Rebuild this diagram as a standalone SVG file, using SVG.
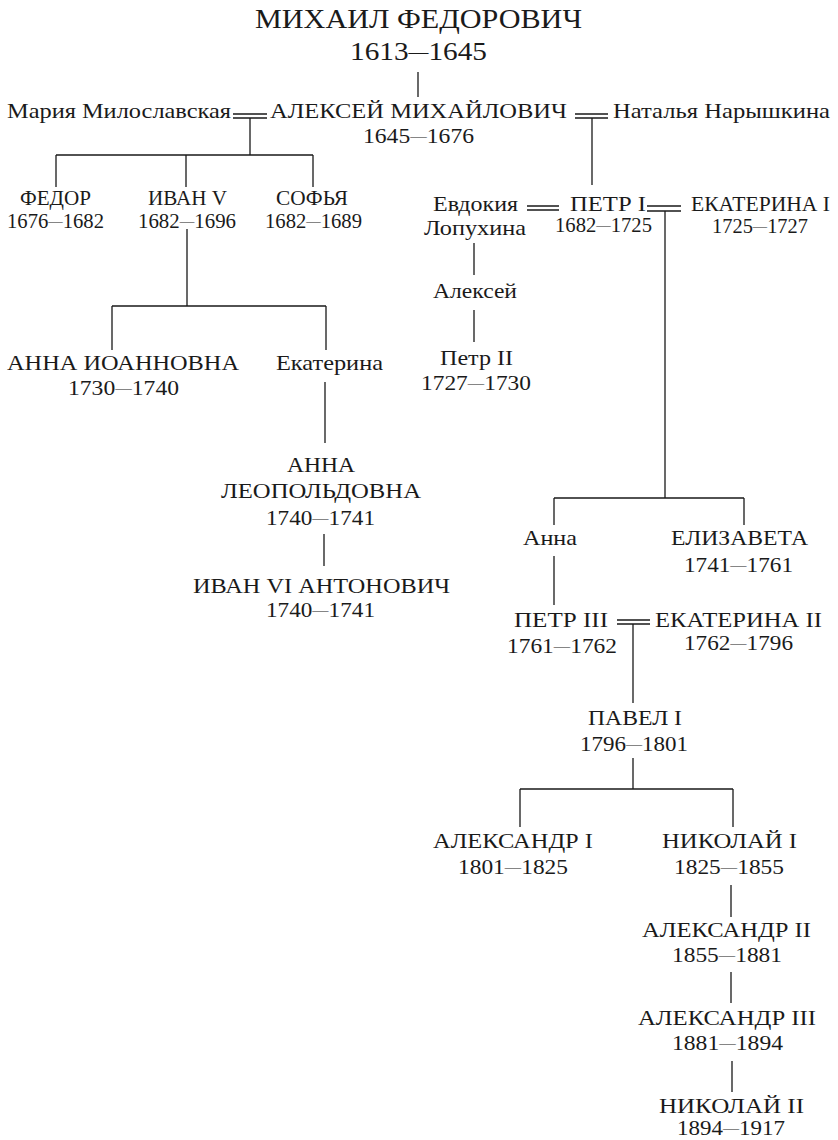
<svg xmlns="http://www.w3.org/2000/svg" width="838" height="1140" viewBox="0 0 838 1140">
<style>
text{font-family:"Liberation Serif","Times New Roman",serif;fill:#1a1a1a;text-anchor:middle;font-size:21px}
.d{font-size:20px}
.t{font-size:27px}
.td{font-size:25px}
.m{font-size:14px}
.m2{font-size:17px}
.c path{stroke:#1a1a1a;stroke-width:1.3;fill:none}
</style>
<rect width="838" height="1140" fill="#fff"/>
<g class="c" id="connectors">
<path d="M418 72V97"/>
<path d="M233 114H267M233 118H267"/>
<path d="M250 118V155M56 155H313M56 155V187M186 155V187M313 155V187"/>
<path d="M575 114H608M575 118H608"/>
<path d="M592 118V185"/>
<path d="M187 229V306M112 306H326M112 306V350M326 306V350"/>
<path d="M325 382V443"/>
<path d="M324 534V566"/>
<path d="M527 206H559M527 210H559"/>
<path d="M647 206H681M647 211H681"/>
<path d="M665 211V498M554 498H744M554 498V525M744 498V525"/>
<path d="M474 243V275M474 310V342"/>
<path d="M554 556V605"/>
<path d="M617 620H650M617 624H650"/>
<path d="M633 624V703"/>
<path d="M633 758V789M520 789H733M520 789V827M733 789V827"/>
<path d="M731 885V917M731 972V1003M732 1061V1092"/>
</g>
<g id="mikhail"><text class="t" x="418.5" y="28" textLength="327" lengthAdjust="spacingAndGlyphs">МИХАИЛ ФЕДОРОВИЧ</text><text class="td" x="418.5" y="60" textLength="137" lengthAdjust="spacingAndGlyphs">1613<tspan class="m2" dy="-3">—</tspan><tspan dy="3">1645</tspan></text></g>
<g id="maria"><text x="119" y="118" textLength="224" lengthAdjust="spacingAndGlyphs">Мария Милославская</text></g>
<g id="aleksei"><text x="418.5" y="118" textLength="297" lengthAdjust="spacingAndGlyphs">АЛЕКСЕЙ МИХАЙЛОВИЧ</text><text class="d" x="418.5" y="143" textLength="111" lengthAdjust="spacingAndGlyphs">1645<tspan class="m" dy="-2">—</tspan><tspan dy="2">1676</tspan></text></g>
<g id="natalia"><text x="721.5" y="118" textLength="217" lengthAdjust="spacingAndGlyphs">Наталья Нарышкина</text></g>
<g id="fedor"><text x="55.5" y="205" textLength="71" lengthAdjust="spacingAndGlyphs">ФЕДОР</text><text class="d" x="55.5" y="228" textLength="97" lengthAdjust="spacingAndGlyphs">1676<tspan class="m" dy="-2">—</tspan><tspan dy="2">1682</tspan></text></g>
<g id="ivan5"><text x="187.5" y="205" textLength="79" lengthAdjust="spacingAndGlyphs">ИВАН V</text><text class="d" x="187" y="228" textLength="98" lengthAdjust="spacingAndGlyphs">1682<tspan class="m" dy="-2">—</tspan><tspan dy="2">1696</tspan></text></g>
<g id="sofia"><text x="312" y="205" textLength="72" lengthAdjust="spacingAndGlyphs">СОФЬЯ</text><text class="d" x="313.5" y="228" textLength="97" lengthAdjust="spacingAndGlyphs">1682<tspan class="m" dy="-2">—</tspan><tspan dy="2">1689</tspan></text></g>
<g id="anna-ioannovna"><text x="123" y="370" textLength="232" lengthAdjust="spacingAndGlyphs">АННА ИОАННОВНА</text><text class="d" x="123.5" y="395" textLength="111" lengthAdjust="spacingAndGlyphs">1730<tspan class="m" dy="-2">—</tspan><tspan dy="2">1740</tspan></text></g>
<g id="ekaterina-iv"><text x="329.5" y="370" textLength="107" lengthAdjust="spacingAndGlyphs">Екатерина</text></g>
<g id="anna-leopoldovna"><text x="321" y="472" textLength="68" lengthAdjust="spacingAndGlyphs">АННА</text><text x="321" y="498" textLength="200" lengthAdjust="spacingAndGlyphs">ЛЕОПОЛЬДОВНА</text><text class="d" x="320.5" y="525" textLength="109" lengthAdjust="spacingAndGlyphs">1740<tspan class="m" dy="-2">—</tspan><tspan dy="2">1741</tspan></text></g>
<g id="ivan6"><text x="321.5" y="593" textLength="257" lengthAdjust="spacingAndGlyphs">ИВАН VI АНТОНОВИЧ</text><text class="d" x="320.5" y="617" textLength="109" lengthAdjust="spacingAndGlyphs">1740<tspan class="m" dy="-2">—</tspan><tspan dy="2">1741</tspan></text></g>
<g id="evdokia"><text x="475.5" y="211" textLength="85" lengthAdjust="spacingAndGlyphs">Евдокия</text><text x="475" y="235" textLength="102" lengthAdjust="spacingAndGlyphs">Лопухина</text></g>
<g id="petr1"><text x="608" y="211" textLength="76" lengthAdjust="spacingAndGlyphs">ПЕТР I</text><text class="d" x="603.5" y="232" textLength="97" lengthAdjust="spacingAndGlyphs">1682<tspan class="m" dy="-2">—</tspan><tspan dy="2">1725</tspan></text></g>
<g id="ekaterina1"><text x="760.5" y="211" textLength="139" lengthAdjust="spacingAndGlyphs">ЕКАТЕРИНА I</text><text class="d" x="760" y="233" textLength="96" lengthAdjust="spacingAndGlyphs">1725<tspan class="m" dy="-2">—</tspan><tspan dy="2">1727</tspan></text></g>
<g id="aleksei-p"><text x="475" y="298" textLength="84" lengthAdjust="spacingAndGlyphs">Алексей</text></g>
<g id="petr2"><text x="476.5" y="365" textLength="73" lengthAdjust="spacingAndGlyphs">Петр II</text><text class="d" x="476" y="390" textLength="110" lengthAdjust="spacingAndGlyphs">1727<tspan class="m" dy="-2">—</tspan><tspan dy="2">1730</tspan></text></g>
<g id="anna-p"><text x="550" y="545" textLength="54" lengthAdjust="spacingAndGlyphs">Анна</text></g>
<g id="elizaveta"><text x="739.5" y="545" textLength="137" lengthAdjust="spacingAndGlyphs">ЕЛИЗАВЕТА</text><text class="d" x="738.5" y="572" textLength="109" lengthAdjust="spacingAndGlyphs">1741<tspan class="m" dy="-2">—</tspan><tspan dy="2">1761</tspan></text></g>
<g id="petr3"><text x="561" y="627" textLength="94" lengthAdjust="spacingAndGlyphs">ПЕТР III</text><text class="d" x="562" y="653" textLength="110" lengthAdjust="spacingAndGlyphs">1761<tspan class="m" dy="-2">—</tspan><tspan dy="2">1762</tspan></text></g>
<g id="ekaterina2"><text x="738.5" y="627" textLength="167" lengthAdjust="spacingAndGlyphs">ЕКАТЕРИНА II</text><text class="d" x="738.5" y="650" textLength="109" lengthAdjust="spacingAndGlyphs">1762<tspan class="m" dy="-2">—</tspan><tspan dy="2">1796</tspan></text></g>
<g id="pavel1"><text x="635" y="725" textLength="94" lengthAdjust="spacingAndGlyphs">ПАВЕЛ I</text><text class="d" x="634" y="751" textLength="108" lengthAdjust="spacingAndGlyphs">1796<tspan class="m" dy="-2">—</tspan><tspan dy="2">1801</tspan></text></g>
<g id="aleksandr1"><text x="513" y="848" textLength="160" lengthAdjust="spacingAndGlyphs">АЛЕКСАНДР I</text><text class="d" x="513" y="874" textLength="110" lengthAdjust="spacingAndGlyphs">1801<tspan class="m" dy="-2">—</tspan><tspan dy="2">1825</tspan></text></g>
<g id="nikolai1"><text x="729.5" y="848" textLength="135" lengthAdjust="spacingAndGlyphs">НИКОЛАЙ I</text><text class="d" x="729" y="874" textLength="110" lengthAdjust="spacingAndGlyphs">1825<tspan class="m" dy="-2">—</tspan><tspan dy="2">1855</tspan></text></g>
<g id="aleksandr2"><text x="726.5" y="937" textLength="169" lengthAdjust="spacingAndGlyphs">АЛЕКСАНДР II</text><text class="d" x="727" y="962" textLength="110" lengthAdjust="spacingAndGlyphs">1855<tspan class="m" dy="-2">—</tspan><tspan dy="2">1881</tspan></text></g>
<g id="aleksandr3"><text x="727" y="1025" textLength="178" lengthAdjust="spacingAndGlyphs">АЛЕКСАНДР III</text><text class="d" x="727.5" y="1050" textLength="111" lengthAdjust="spacingAndGlyphs">1881<tspan class="m" dy="-2">—</tspan><tspan dy="2">1894</tspan></text></g>
<g id="nikolai2"><text x="731.5" y="1113" textLength="145" lengthAdjust="spacingAndGlyphs">НИКОЛАЙ II</text><text class="d" x="731" y="1135" textLength="108" lengthAdjust="spacingAndGlyphs">1894<tspan class="m" dy="-2">—</tspan><tspan dy="2">1917</tspan></text></g>
</svg>
